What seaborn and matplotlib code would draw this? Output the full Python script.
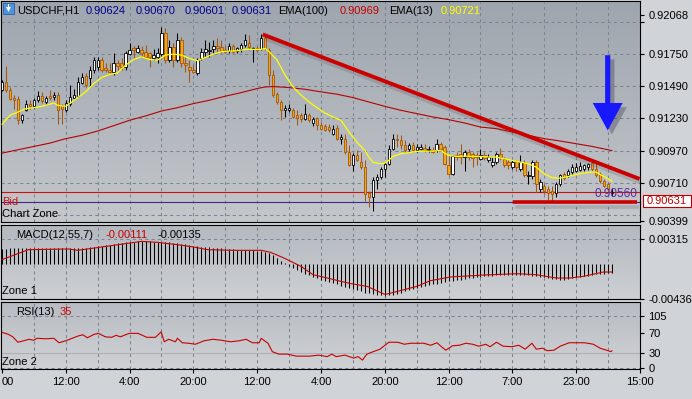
import numpy as np
import pandas as pd
import seaborn as sns
import matplotlib
matplotlib.use("Agg")
import matplotlib.pyplot as plt
import matplotlib.patheffects as pe
from matplotlib.patches import Polygon, Rectangle
from matplotlib.colors import LinearSegmentedColormap

# ---------------- data (USDCHF, H1) ----------------
opens = [0.91464, 0.91526, 0.91464, 0.91396, 0.91385, 0.91215, 0.91301, 0.91350, 0.91328, 0.91377,
         0.91410, 0.91363, 0.91410, 0.91404, 0.91418, 0.91336, 0.91296, 0.91350, 0.91399, 0.91410,
         0.91518, 0.91572, 0.91561, 0.91626, 0.91648, 0.91707, 0.91640, 0.91626, 0.91607, 0.91680,
         0.91675, 0.91648, 0.91748, 0.91797, 0.91770, 0.91783, 0.91770, 0.91756, 0.91721, 0.91729,
         0.91751, 0.91919, 0.91702, 0.91810, 0.91702, 0.91865, 0.91675, 0.91648, 0.91621, 0.91599,
         0.91716, 0.91770, 0.91778, 0.91789, 0.91816, 0.91810, 0.91783, 0.91778, 0.91816, 0.91778,
         0.91794, 0.91821, 0.91837, 0.91789, 0.91797, 0.91789, 0.91878, 0.91783, 0.91580, 0.91426,
         0.91363, 0.91296, 0.91301, 0.91301, 0.91255, 0.91261, 0.91225, 0.91261, 0.91193, 0.91236,
         0.91174, 0.91166, 0.91160, 0.91106, 0.91155, 0.91066, 0.91066, 0.90957, 0.90849, 0.90930,
         0.90876, 0.90835, 0.90624, 0.90592, 0.90732, 0.90754, 0.90822, 0.90862, 0.90984, 0.91066,
         0.91052, 0.91011, 0.90984, 0.91011, 0.90976, 0.90984, 0.90992, 0.90976, 0.90976, 0.90971,
         0.91025, 0.90998, 0.90849, 0.90781, 0.90930, 0.90944, 0.90917, 0.90957, 0.90944, 0.90930,
         0.90903, 0.90930, 0.90890, 0.90849, 0.90876, 0.90944, 0.90903, 0.90876, 0.90835, 0.90884,
         0.90822, 0.90868, 0.90760, 0.90760, 0.90876, 0.90659, 0.90686, 0.90659, 0.90646, 0.90624,
         0.90695, 0.90781, 0.90768, 0.90795, 0.90808, 0.90814, 0.90822, 0.90835, 0.90868, 0.90822,
         0.90776, 0.90727, 0.90695, 0.90624]
highs = [0.91545, 0.91653, 0.91485, 0.91418, 0.91410, 0.91269, 0.91377, 0.91377, 0.91399, 0.91453,
         0.91445, 0.91410, 0.91464, 0.91445, 0.91445, 0.91350, 0.91377, 0.91499, 0.91472, 0.91567,
         0.91594, 0.91594, 0.91653, 0.91729, 0.91724, 0.91729, 0.91675, 0.91680, 0.91756, 0.91702,
         0.91716, 0.91778, 0.91837, 0.91816, 0.91824, 0.91816, 0.91824, 0.91770, 0.91789, 0.91797,
         0.91967, 0.91959, 0.91865, 0.91837, 0.91919, 0.91892, 0.91729, 0.91702, 0.91661, 0.91716,
         0.91797, 0.91865, 0.91851, 0.91865, 0.91878, 0.91865, 0.91816, 0.91837, 0.91832, 0.91810,
         0.91837, 0.91913, 0.91905, 0.91810, 0.91816, 0.91913, 0.91905, 0.91797, 0.91621, 0.91445,
         0.91377, 0.91336, 0.91350, 0.91317, 0.91296, 0.91274, 0.91345, 0.91274, 0.91242, 0.91242,
         0.91201, 0.91182, 0.91187, 0.91174, 0.91174, 0.91106, 0.91106, 0.91011, 0.90949, 0.90971,
         0.90957, 0.90890, 0.90646, 0.90754, 0.90781, 0.90835, 0.90876, 0.91011, 0.91106, 0.91106,
         0.91093, 0.91052, 0.91030, 0.91038, 0.91025, 0.91025, 0.91025, 0.91003, 0.90998, 0.91066,
         0.91038, 0.91011, 0.90930, 0.90930, 0.90957, 0.91025, 0.90971, 0.90984, 0.90957, 0.90957,
         0.90984, 0.90957, 0.90944, 0.90917, 0.90957, 0.90992, 0.90917, 0.90890, 0.90895, 0.90895,
         0.90930, 0.90890, 0.90808, 0.90895, 0.90895, 0.90741, 0.90700, 0.90686, 0.90686, 0.90713,
         0.90781, 0.90795, 0.90822, 0.90862, 0.90868, 0.90876, 0.90862, 0.90868, 0.90895, 0.90876,
         0.90795, 0.90741, 0.90705, 0.90670]
lows = [0.91453, 0.91445, 0.91377, 0.91309, 0.91187, 0.91193, 0.91290, 0.91309, 0.91317, 0.91363,
        0.91355, 0.91350, 0.91377, 0.91377, 0.91187, 0.91187, 0.91282, 0.91328, 0.91391, 0.91404,
        0.91507, 0.91485, 0.91491, 0.91594, 0.91621, 0.91607, 0.91607, 0.91594, 0.91580, 0.91621,
        0.91621, 0.91626, 0.91743, 0.91716, 0.91756, 0.91729, 0.91716, 0.91648, 0.91702, 0.91675,
        0.91735, 0.91680, 0.91688, 0.91648, 0.91688, 0.91648, 0.91607, 0.91526, 0.91594, 0.91580,
        0.91702, 0.91729, 0.91729, 0.91756, 0.91756, 0.91762, 0.91756, 0.91756, 0.91756, 0.91756,
        0.91770, 0.91805, 0.91783, 0.91688, 0.91770, 0.91783, 0.91783, 0.91499, 0.91404, 0.91350,
        0.91220, 0.91242, 0.91282, 0.91236, 0.91174, 0.91201, 0.91215, 0.91201, 0.91166, 0.91133,
        0.91139, 0.91128, 0.91120, 0.91093, 0.91057, 0.91025, 0.90944, 0.90841, 0.90808, 0.90884,
        0.90822, 0.90565, 0.90510, 0.90483, 0.90659, 0.90741, 0.90754, 0.90849, 0.90971, 0.90998,
        0.90984, 0.90957, 0.90965, 0.90957, 0.90957, 0.90971, 0.90957, 0.90957, 0.90949, 0.90957,
        0.90965, 0.90849, 0.90768, 0.90768, 0.90890, 0.90862, 0.90808, 0.90890, 0.90835, 0.90849,
        0.90890, 0.90890, 0.90876, 0.90835, 0.90857, 0.90890, 0.90835, 0.90822, 0.90822, 0.90808,
        0.90808, 0.90754, 0.90700, 0.90741, 0.90632, 0.90632, 0.90619, 0.90565, 0.90565, 0.90592,
        0.90686, 0.90732, 0.90754, 0.90781, 0.90795, 0.90808, 0.90808, 0.90814, 0.90808, 0.90754,
        0.90705, 0.90673, 0.90646, 0.90601]
closes = [0.91526, 0.91464, 0.91391, 0.91382, 0.91215, 0.91261, 0.91350, 0.91328, 0.91377, 0.91410,
          0.91372, 0.91399, 0.91399, 0.91418, 0.91296, 0.91309, 0.91355, 0.91404, 0.91418, 0.91526,
          0.91567, 0.91499, 0.91626, 0.91702, 0.91707, 0.91626, 0.91621, 0.91607, 0.91680, 0.91653,
          0.91648, 0.91756, 0.91783, 0.91783, 0.91797, 0.91762, 0.91729, 0.91724, 0.91743, 0.91756,
          0.91924, 0.91702, 0.91810, 0.91702, 0.91865, 0.91675, 0.91661, 0.91621, 0.91607, 0.91702,
          0.91770, 0.91789, 0.91783, 0.91816, 0.91797, 0.91778, 0.91770, 0.91816, 0.91770, 0.91797,
          0.91821, 0.91865, 0.91810, 0.91797, 0.91783, 0.91878, 0.91797, 0.91580, 0.91418, 0.91363,
          0.91296, 0.91317, 0.91317, 0.91242, 0.91236, 0.91228, 0.91263, 0.91220, 0.91228, 0.91174,
          0.91147, 0.91139, 0.91133, 0.91147, 0.91066, 0.91079, 0.90957, 0.90849, 0.90936, 0.90890,
          0.90835, 0.90619, 0.90592, 0.90732, 0.90754, 0.90822, 0.90862, 0.90984, 0.91066, 0.91052,
          0.91011, 0.90976, 0.91011, 0.90971, 0.90998, 0.90998, 0.90971, 0.90984, 0.90957, 0.91025,
          0.90984, 0.90862, 0.90781, 0.90922, 0.90917, 0.90917, 0.90957, 0.90917, 0.90911, 0.90917,
          0.90930, 0.90911, 0.90917, 0.90876, 0.90944, 0.90917, 0.90849, 0.90849, 0.90876, 0.90835,
          0.90876, 0.90768, 0.90768, 0.90876, 0.90700, 0.90713, 0.90646, 0.90624, 0.90619, 0.90695,
          0.90768, 0.90749, 0.90808, 0.90835, 0.90835, 0.90841, 0.90849, 0.90862, 0.90822, 0.90768,
          0.90727, 0.90686, 0.90659, 0.90631]

ema13_bar = [0, 2, 4, 6, 8, 10, 12, 13, 14, 16, 17, 19, 21, 23, 25, 27, 29, 31, 33, 35, 37, 39, 41,
             43, 45, 47, 49, 51, 53, 55, 57, 59, 61, 63, 65, 66, 67, 69, 71, 73, 75, 77, 79, 81, 83,
             85, 87, 89, 91, 92, 93, 95, 96, 97, 98, 100, 102, 104, 106, 108, 110, 111, 112, 114,
             116, 118, 120, 122, 124, 126, 128, 130, 132, 134, 136, 138, 140, 142, 144, 146, 148,
             149, 150, 152, 153]
ema13_val = [0.91182, 0.91255, 0.91282, 0.91309, 0.91317, 0.91328, 0.91345, 0.91355, 0.91336, 0.91328,
             0.91350, 0.91399, 0.91445, 0.91512, 0.91561, 0.91586, 0.91599, 0.91661, 0.91707, 0.91729,
             0.91707, 0.91702, 0.91743, 0.91751, 0.91743, 0.91716, 0.91697, 0.91724, 0.91751, 0.91770,
             0.91775, 0.91778, 0.91789, 0.91789, 0.91789, 0.91797, 0.91770, 0.91702, 0.91580, 0.91485,
             0.91418, 0.91363, 0.91317, 0.91274, 0.91242, 0.91215, 0.91120, 0.91038, 0.90971, 0.90917,
             0.90876, 0.90862, 0.90868, 0.90890, 0.90922, 0.90944, 0.90952, 0.90963, 0.90965, 0.90965,
             0.90971, 0.90949, 0.90930, 0.90922, 0.90925, 0.90922, 0.90922, 0.90917, 0.90917, 0.90903,
             0.90890, 0.90876, 0.90862, 0.90835, 0.90781, 0.90749, 0.90746, 0.90760, 0.90776, 0.90789,
             0.90795, 0.90795, 0.90776, 0.90741, 0.90721]

ema100_bar = [0, 4, 8, 12, 16, 20, 24, 28, 32, 36, 40, 44, 48, 52, 56, 60, 64, 66, 68, 72, 76, 80, 84,
              88, 92, 96, 100, 104, 108, 112, 116, 120, 124, 128, 132, 136, 140, 144, 148, 152, 153]
ema100_val = [0.90949, 0.90976, 0.91003, 0.91030, 0.91066, 0.91093, 0.91128, 0.91171, 0.91215, 0.91250,
              0.91290, 0.91317, 0.91350, 0.91377, 0.91410, 0.91439, 0.91472, 0.91485, 0.91488, 0.91480,
              0.91466, 0.91445, 0.91426, 0.91399, 0.91363, 0.91328, 0.91296, 0.91269, 0.91242, 0.91220,
              0.91193, 0.91160, 0.91147, 0.91120, 0.91093, 0.91066, 0.91047, 0.91025, 0.91003, 0.90976,
              0.90969]

macd_hist = [0.00195, 0.00198, 0.00200, 0.00202, 0.00205, 0.00205, 0.00206, 0.00205, 0.00204, 0.00205,
             0.00205, 0.00204, 0.00203, 0.00203, 0.00202, 0.00200, 0.00200, 0.00201, 0.00200, 0.00200,
             0.00202, 0.00205, 0.00212, 0.00217, 0.00225, 0.00232, 0.00238, 0.00245, 0.00255, 0.00262,
             0.00268, 0.00275, 0.00280, 0.00285, 0.00288, 0.00290, 0.00288, 0.00287, 0.00285, 0.00282,
             0.00285, 0.00280, 0.00275, 0.00268, 0.00265, 0.00258, 0.00250, 0.00240, 0.00232, 0.00228,
             0.00222, 0.00217, 0.00212, 0.00208, 0.00205, 0.00200, 0.00195, 0.00192, 0.00188, 0.00185,
             0.00183, 0.00182, 0.00180, 0.00175, 0.00170, 0.00168, 0.00160, 0.00140, 0.00110, 0.00075,
             0.00040, 0.00010, -0.00020, -0.00045, -0.00070, -0.00095, -0.00120, -0.00140, -0.00160, -0.00180,
             -0.00195, -0.00210, -0.00225, -0.00240, -0.00255, -0.00270, -0.00285, -0.00300, -0.00315, -0.00330,
             -0.00345, -0.00358, -0.00370, -0.00380, -0.00388, -0.00394, -0.00398, -0.00395, -0.00385, -0.00372,
             -0.00358, -0.00345, -0.00330, -0.00315, -0.00301, -0.00290, -0.00280, -0.00268, -0.00255, -0.00245,
             -0.00235, -0.00226, -0.00217, -0.00210, -0.00202, -0.00195, -0.00188, -0.00180, -0.00172, -0.00165,
             -0.00158, -0.00154, -0.00150, -0.00146, -0.00143, -0.00140, -0.00137, -0.00135, -0.00133, -0.00133,
             -0.00135, -0.00138, -0.00142, -0.00145, -0.00150, -0.00158, -0.00165, -0.00175, -0.00185, -0.00192,
             -0.00196, -0.00195, -0.00188, -0.00178, -0.00168, -0.00160, -0.00152, -0.00144, -0.00136, -0.00128,
             -0.00122, -0.00118, -0.00115, -0.00111]
macd_sig_bar = [0, 6.6, 16.6, 19, 27.4, 35, 39, 44, 48, 51.6, 58, 65, 67.4, 70.7, 75, 78, 81.6, 85,
                87.4, 91.6, 95.8, 96.6, 104, 107.4, 112.4, 120.8, 129, 134, 139, 142.4, 145.8, 150.8, 153]
macd_sig_val = [0.00057, 0.00183, 0.00192, 0.00175, 0.00234, 0.00288, 0.00276, 0.00246, 0.00217, 0.00183,
                0.00175, 0.00175, 0.00149, 0.00078, -0.00028, -0.00133, -0.00175, -0.00217, -0.00245,
                -0.00281, -0.00377, -0.00377, -0.00281, -0.00209, -0.00162, -0.00137, -0.00120, -0.00133,
                -0.00175, -0.00175, -0.00154, -0.00099, -0.00099]

rsi_bar = [0, 1.6, 2.7, 4, 5.4, 6.8, 7.9, 8.8, 11, 13, 14.3, 16, 17.6, 19.2, 20.3, 21.4, 23.1, 24.2,
           25.9, 27.5, 28.6, 29.7, 31.9, 34.1, 36.3, 38.5, 39.9, 40.7, 41.8, 43.5, 44, 45.2, 46.8, 48.5,
           50.7, 52.9, 55.1, 57.3, 59.5, 61.2, 62.8, 64.5, 65, 66.7, 67.8, 69.4, 71.6, 73.8, 77.2, 79.4,
           81.6, 82.7, 83.8, 86, 88.2, 89.3, 90.4, 91.5, 93.1, 94.8, 97, 99.2, 100.9, 102.5, 104.2, 105.8,
           107.5, 109.1, 110.2, 111.3, 113, 114.7, 116.3, 118, 119.6, 121.3, 122.4, 124, 125.7, 127.9,
           129.6, 131.2, 132.9, 134, 135.6, 136.7, 138.4, 140, 142.2, 144.4, 146.1, 148.3, 150, 151.6,
           152.7, 153]
rsi_val = [72, 68, 63, 52, 55, 58, 56, 60, 59, 60, 51, 55, 60, 65, 67, 61, 68, 70,
           63, 62, 66, 63, 70, 70, 62, 62, 73, 53, 58, 53, 60, 51, 50, 48,
           55, 58, 56, 53, 55, 58, 51, 51, 60, 50, 33, 28, 28, 24, 24, 26,
           23, 28, 23, 26, 20, 23, 16, 28, 33, 38, 52, 52, 48, 50, 50, 50,
           46, 51, 43, 36, 45, 46, 50, 48, 44, 48, 43, 52, 44, 43,
           46, 38, 50, 38, 40, 35, 36, 44, 51, 51, 51, 48, 40, 36,
           33, 35]

price_ticks = [0.92068, 0.91750, 0.91490, 0.91230, 0.90970, 0.90710, 0.90399]
price_grid = [0.92010, 0.91750, 0.91490, 0.91230, 0.90970, 0.90710, 0.90450]
macd_ticks = [0.00315, -0.00436]
rsi_ticks = [105, 70, 30, 0]
time_tick_bars = [0, 16, 32, 48, 64, 80, 96, 112, 128, 144, 160]
time_tick_labels = ["00", "12:00", "4:00", "20:00", "12:00", "4:00", "20:00",
                    "12:00", "7:00", "23:00", "15:00"]

bid_price = 0.90631
zone_price = 0.90553
trend_bar = [65.4, 159.9]
trend_price = [0.91910, 0.90740]
support_bar = [128.2, 159.2]
support_price = [0.90550, 0.90550]
arrow_bar, arrow_top, arrow_neck, arrow_tip = 151.9, 0.91742, 0.91355, 0.91133
header = [("USDCHF,H1", "black"), ("0.90624", "#00008b"), ("0.90670", "#00008b"),
          ("0.90601", "#00008b"), ("0.90631", "#00008b"), ("EMA(100)", "black"),
          ("0.90969", "#c80000"), ("EMA(13)", "black"), ("0.90721", "#ffff00")]
header_x = [17, 86, 136, 185, 232, 278, 340, 389, 441]

# ---------------- style ----------------
sns.set_style("white")
plt.rcParams["font.family"] = ["Liberation Sans", "DejaVu Sans"]
plt.rcParams["font.size"] = 8
NARROW = ["Liberation Sans Narrow", "Liberation Sans", "DejaVu Sans"]
GRID = "#7a8594"
UP_FILL, UP_EDGE = "white", "black"
DN_FILL, DN_EDGE = "#f2a516", "#a4560c"

W, H = 692, 399
fig = plt.figure(figsize=(W / 100, H / 100), dpi=100)
fig.patch.set_facecolor("#d0d3d7")


def panel(top, bottom):
    return fig.add_axes([1 / W, 1 - bottom / H, 639 / W, (bottom - top) / H])


def shade(a, c_top, c_bot):
    cmap = LinearSegmentedColormap.from_list("g", [c_bot, c_top])
    grad = np.linspace(0, 1, 256).reshape(-1, 1)
    a.imshow(grad, extent=[0, 1, 0, 1], transform=a.transAxes, origin="lower",
             aspect="auto", cmap=cmap, zorder=-20)


ax = panel(1, 222)
axm = panel(225, 299)
axr = panel(302, 369)
shade(ax, "#9ea5ae", "#c4c7cb")
shade(axm, "#b4b9c0", "#cdd0d3")
shade(axr, "#b8bcc2", "#cfd1d4")

XLIM = (-0.25, 160.0)
vgrid = list(range(8, 160, 8))
for a in (ax, axm, axr):
    for b in vgrid:
        a.axvline(b, color=GRID, lw=0.75, ls=(0, (3, 3)), zorder=1)
for p in price_grid:
    ax.axhline(p, color=GRID, lw=0.75, ls=(0, (3, 3)), zorder=1)
for p in macd_ticks:
    axm.axhline(p, color=GRID, lw=0.75, ls=(0, (3, 3)), zorder=1)
axr.axhline(105, color=GRID, lw=0.75, ls=(0, (3, 3)), zorder=1)
axr.axhline(30, color="#a9afb7", lw=0.75, zorder=1)
axr.axhline(0, color="#6a7ea0", lw=0.75, ls=(0, (3, 3)), zorder=1)

# ---------------- candles ----------------
df = pd.DataFrame(dict(bar=np.arange(len(closes)), o=opens, h=highs, l=lows, c=closes))
up = df.c >= df.o
for mask, fill, edge in [(up, UP_FILL, UP_EDGE), (~up, DN_FILL, DN_EDGE)]:
    d = df[mask]
    ax.vlines(d.bar, d.l, d.h, color=edge, lw=0.75, zorder=3)
    lo = np.minimum(d.o, d.c)
    ht = np.maximum(np.abs(d.c - d.o), 0.000015)
    ax.bar(d.bar, ht, bottom=lo, width=0.6, color=fill, edgecolor=edge, linewidth=0.6, zorder=4)

sns.lineplot(x=ema100_bar, y=ema100_val, ax=ax, color="#b80000", lw=0.8, zorder=5)
sns.lineplot(x=ema13_bar, y=ema13_val, ax=ax, color="#ffff00", lw=0.9, zorder=5)

ax.axhline(bid_price, color="#d01010", lw=0.8, zorder=2)
ax.axhline(zone_price, color="#3c2890", lw=0.8, zorder=2)

shadow = [pe.SimpleLineShadow(offset=(1.5, -3), shadow_color="#404040", alpha=0.18), pe.Normal()]
ax.plot(trend_bar, trend_price, color="#cc0000", lw=2.8, solid_capstyle="butt",
        path_effects=shadow, zorder=6)
ax.plot(support_bar, support_price, color="#cc0000", lw=2.6, solid_capstyle="butt",
        path_effects=shadow, zorder=6)

sh, hh = 0.65, 3.75
arrow_pts = [(arrow_bar - sh, arrow_top), (arrow_bar + sh, arrow_top), (arrow_bar + sh, arrow_neck),
             (arrow_bar + hh, arrow_neck), (arrow_bar, arrow_tip), (arrow_bar - hh, arrow_neck),
             (arrow_bar - sh, arrow_neck)]
ax.add_patch(Polygon(arrow_pts, closed=True, facecolor="#1818ff", edgecolor="none", zorder=7,
                     path_effects=[pe.SimplePatchShadow(offset=(3, -3), shadow_rgbFace="#20203a",
                                                        alpha=0.3), pe.Normal()]))

# ---------------- MACD ----------------
axm.vlines(np.arange(len(macd_hist)), 0, macd_hist, color="black", lw=0.75, zorder=3)
sns.lineplot(x=macd_sig_bar, y=macd_sig_val, ax=axm, color="#c80000", lw=0.8, zorder=4)

# ---------------- RSI ----------------
sns.lineplot(x=rsi_bar, y=rsi_val, ax=axr, color="#c80000", lw=0.8, zorder=4)

# ---------------- axes ----------------
ax.set_ylim(0.90391, 0.92181)
axm.set_ylim(-0.00440, 0.00495)
axr.set_ylim(-2.0, 133.3)
for a in (ax, axm, axr):
    a.set_xlim(*XLIM)
    a.set_xlabel("")
    a.set_ylabel("")
    a.yaxis.tick_right()
    a.tick_params(axis="y", which="both", direction="out", length=3, width=0.8, pad=3,
                  labelsize=8, colors="black")
    a.tick_params(axis="x", bottom=False, labelbottom=False, top=False)
    for s in a.spines.values():
        s.set_color("black")
        s.set_linewidth(0.8)
    leg = a.get_legend()
    if leg:
        leg.remove()

ax.set_yticks(price_ticks, [f"{v:.5f}" for v in price_ticks], fontfamily=NARROW)
ax.set_yticks([0.92010], minor=True)
axm.set_yticks(macd_ticks, [f"{v:.5f}" for v in macd_ticks], fontfamily=NARROW)
axr.set_yticks(rsi_ticks, [str(v) for v in rsi_ticks], fontfamily=NARROW)
axr.set_xticks(time_tick_bars, time_tick_labels, fontfamily=NARROW)
axr.tick_params(axis="x", bottom=True, labelbottom=True, length=3, width=0.8, pad=3,
                labelsize=8, colors="black")
axr.get_xticklabels()[0].set_horizontalalignment("left")


# ---------------- texts ----------------
def ftext(x, y, s, **kw):
    fig.text(x / W, 1 - y / H, s, va="baseline", **kw)


for (s, col), x in zip(header, header_x):
    ftext(x, 13.5, s, color=col, fontsize=8)
fig.add_artist(Rectangle((3 / W, 1 - 14 / H), 11 / W, 11 / H, transform=fig.transFigure,
                         facecolor="#4f93dc", edgecolor="#2a5ea8", lw=0.6))
fig.add_artist(Polygon([(6 / W, 1 - 7 / H), (11 / W, 1 - 7 / H), (8.5 / W, 1 - 12 / H)],
                       closed=True, transform=fig.transFigure, facecolor="white",
                       edgecolor="none"))
fig.add_artist(Rectangle((7.8 / W, 1 - 7.5 / H), 1.4 / W, 3.5 / H, transform=fig.transFigure,
                         facecolor="white", edgecolor="none"))

ftext(2, 205, "Bid", color="#d01010", fontsize=8)
ftext(2, 216.5, "Chart Zone", color="black", fontsize=8)
ftext(637, 197, "0.90560", color="#5b2c9e", fontsize=8.5, ha="right")

ftext(16, 238, "MACD(12,55,7)", color="black", fontsize=8)
ftext(105, 238, "-0.00111", color="#c80000", fontsize=8)
ftext(157, 238, "-0.00135", color="black", fontsize=8)
ftext(2, 294, "Zone 1", color="black", fontsize=8)

ftext(16, 315, "RSI(13)", color="black", fontsize=8)
ftext(60, 315, "35", color="#c80000", fontsize=8)
ftext(2, 365, "Zone 2", color="black", fontsize=8)

fig.add_artist(Rectangle((643 / W, 1 - 207 / H), 48 / W, 12 / H, transform=fig.transFigure,
                         facecolor="white", edgecolor="#c00000", lw=0.8))
fig.text(647 / W, 1 - 201 / H, f"{bid_price:.5f}", color="#c00000", fontsize=8, va="center",
         fontfamily=NARROW)

fig.savefig("out.png", dpi=100, facecolor=fig.get_facecolor())
